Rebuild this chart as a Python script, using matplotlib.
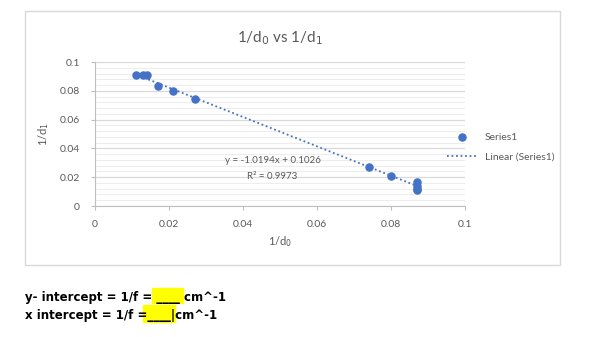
import numpy as np
import matplotlib.pyplot as plt
from matplotlib.patches import Rectangle

# datos
inv_do = [0.011, 0.013, 0.014, 0.017, 0.021, 0.027, 0.074, 0.080, 0.087, 0.087, 0.087, 0.087]
inv_di = [0.091, 0.091, 0.091, 0.083, 0.080, 0.074, 0.027, 0.021, 0.017, 0.014, 0.012, 0.011]
pendiente = -1.0194
ordenada = 0.1026
r2 = 0.9973

azul = "#4472C4"
gris = "#595959"

plt.rcParams['font.family'] = ['Lato', 'DejaVu Sans']

fig = plt.figure(figsize=(5.92, 3.37), dpi=100)

# marco del área del gráfico
fig.patches.append(Rectangle((25 / 592, 1 - 265 / 337), 535 / 592, 254 / 337,
                             transform=fig.transFigure, fill=False,
                             edgecolor="#D9D9D9", linewidth=1))

ax = fig.add_axes([95 / 592, 1 - 206 / 337, 370 / 592, 144 / 337])
ax.scatter(inv_do, inv_di, s=26, color=azul, zorder=3, label="Series1")

# línea de tendencia
xs = np.array([min(inv_do), max(inv_do)])
ax.plot(xs, pendiente * xs + ordenada, linestyle=(0, (1, 1.5)), color=azul,
        linewidth=1.3, zorder=2, label="Linear (Series1)")

ax.set_xlim(0, 0.1)
ax.set_ylim(0, 0.1)
ax.set_xticks([0, 0.02, 0.04, 0.06, 0.08, 0.1])
ax.set_xticklabels(["0", "0.02", "0.04", "0.06", "0.08", "0.1"])
ax.set_yticks([0, 0.02, 0.04, 0.06, 0.08, 0.1])
ax.set_yticklabels(["0", "0.02", "0.04", "0.06", "0.08", "0.1"])
ax.set_yticks(np.arange(0, 0.1001, 0.004), minor=True)
ax.grid(True, which="major", axis="y", color="#D9D9D9", linewidth=0.9)
ax.grid(True, which="minor", axis="y", color="#EDEDED", linewidth=0.8)
ax.set_axisbelow(True)
ax.tick_params(axis="both", which="major", colors="#BFBFBF", labelcolor=gris,
               labelsize=7.5, length=3)
ax.tick_params(axis="y", which="major", pad=8)
ax.tick_params(axis="x", which="major", pad=7)
ax.tick_params(axis="y", which="minor", length=0)
for lado in ["top", "right"]:
    ax.spines[lado].set_visible(False)
for lado in ["left", "bottom"]:
    ax.spines[lado].set_color("#BFBFBF")

ax.set_xlabel("1/d$_0$", color=gris, fontsize=8, labelpad=4)
ax.set_ylabel("1/d$_1$", color=gris, fontsize=8, labelpad=6)
ax.set_title("1/d$_0$ vs 1/d$_1$", color=gris, fontsize=11, pad=14)

ax.text(0.048, 0.030, "y = -1.0194x + 0.1026", color=gris, fontsize=7, ha="center")
ax.text(0.048, 0.019, "R² = 0.9973", color=gris, fontsize=7, ha="center")

fig.legend(loc="center left", bbox_to_anchor=(438 / 592, 1 - 147 / 337),
           frameon=False, fontsize=7.5, labelcolor=gris, handlelength=2.8,
           labelspacing=1.0)

# texto de abajo con los recuadros amarillos
fig.patches.append(Rectangle((152 / 592, 1 - 303 / 337), 31 / 592, 15 / 337,
                             transform=fig.transFigure, color="yellow", zorder=0))
fig.patches.append(Rectangle((143 / 592, 1 - 322 / 337), 32 / 592, 17 / 337,
                             transform=fig.transFigure, color="yellow", zorder=0))
fig.text(25 / 592, 1 - 297 / 337, "y- intercept = 1/f = ____ cm^-1",
         fontsize=8.5, fontweight="bold", va="center", family=["DejaVu Sans"])
fig.text(25 / 592, 1 - 316 / 337, "x intercept = 1/f =____|cm^-1",
         fontsize=8.5, fontweight="bold", va="center", family=["DejaVu Sans"])

fig.savefig("out.png", dpi=100)
